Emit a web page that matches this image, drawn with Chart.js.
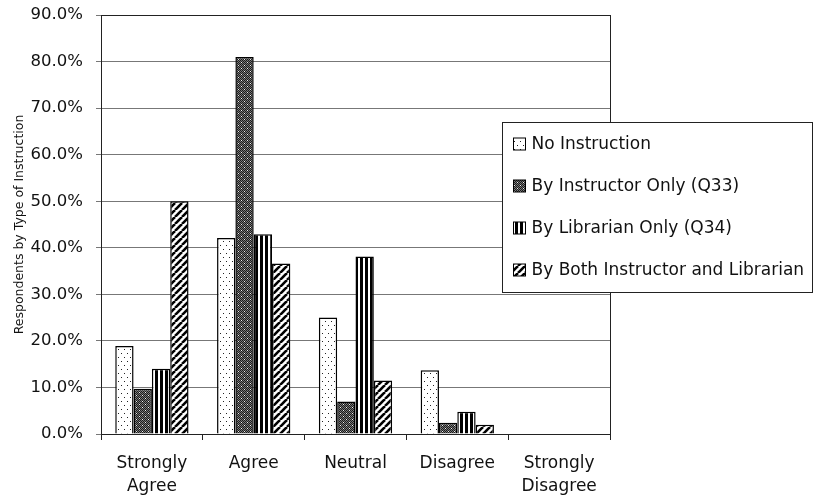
<!DOCTYPE html>
<html>
<head>
<meta charset="utf-8">
<script src="https://cdn.jsdelivr.net/npm/chart.js@4.4.1/dist/chart.umd.min.js"></script>
<style>
  html, body { margin: 0; padding: 0; background: #fff; }
  #wrap { width: 814px; height: 495px; position: relative; }
</style>
</head>
<body>
<div id="wrap"><canvas id="surveyChart" width="814" height="495"></canvas></div>
<script>
// chart data
const categories = [['Strongly', 'Agree'], 'Agree', 'Neutral', 'Disagree', ['Strongly', 'Disagree']];
const seriesNames = ['No Instruction', 'By Instructor Only (Q33)', 'By Librarian Only (Q34)', 'By Both Instructor and Librarian'];
const noInstruction = [18.9, 42.1, 25.0, 13.7, 0];
const instructorOnly = [9.7, 81.0, 7.0, 2.4, 0];
const librarianOnly = [14.0, 42.9, 38.1, 4.8, 0];
const bothInstructorLibrarian = [50.0, 36.6, 11.5, 2.0, 0];
const yTicks = [0, 10, 20, 30, 40, 50, 60, 70, 80, 90];

const FONT = '"DejaVu Sans", Verdana, sans-serif';

// fill patterns that look like the old printed chart
function makePattern(kind) {
  const c = document.createElement('canvas');
  const g = c.getContext('2d');
  if (kind === 'dots') {
    c.width = 6; c.height = 8;
    g.fillStyle = '#fff'; g.fillRect(0, 0, 6, 8);
    g.fillStyle = '#222';
    g.fillRect(1, 1, 1, 1);
    g.fillRect(4, 5, 1, 1);
  } else if (kind === 'dark') {
    c.width = 6; c.height = 6;
    g.fillStyle = '#777'; g.fillRect(0, 0, 6, 6);
    g.fillStyle = '#1a1a1a';
    for (let y = 0; y < 6; y++) for (let x = 0; x < 6; x++) if ((x + y) % 2 === 0) g.fillRect(x, y, 1, 1);
    g.fillStyle = '#eee';
    g.fillRect(1, 2, 1, 1);
    g.fillRect(4, 5, 1, 1);
  } else if (kind === 'vstripe') {
    c.width = 5; c.height = 4;
    g.fillStyle = '#fff'; g.fillRect(0, 0, 5, 4);
    g.fillStyle = '#000'; g.fillRect(0, 0, 3, 4);
  } else {
    c.width = 7; c.height = 7;
    g.fillStyle = '#fff'; g.fillRect(0, 0, 7, 7);
    g.strokeStyle = '#000'; g.lineWidth = 2.6;
    [-7, 0, 7].forEach(k => {
      g.beginPath(); g.moveTo(k, 7); g.lineTo(k + 7, 0); g.stroke();
    });
  }
  return g.createPattern(c, 'repeat');
}

const patterns = [makePattern('dots'), makePattern('dark'), makePattern('vstripe'), makePattern('diag')];
const seriesValues = [noInstruction, instructorOnly, librarianOnly, bothInstructorLibrarian];

// border round the plot area
const plotFrame = {
  id: 'plotFrame',
  afterDraw(chart) {
    const a = chart.chartArea, ctx = chart.ctx;
    ctx.save();
    ctx.strokeStyle = '#222';
    ctx.lineWidth = 1;
    ctx.strokeRect(Math.round(a.left) + 0.5, Math.round(a.top) + 0.5, Math.round(a.right - a.left), Math.round(a.bottom - a.top));
    ctx.restore();
  }
};

// boxed legend that sits over the right side of the plot
const boxLegend = {
  id: 'boxLegend',
  afterDraw(chart) {
    const ctx = chart.ctx;
    const x = 502.5, y = 122.5, w = 310, h = 170;
    ctx.save();
    ctx.fillStyle = '#fff';
    ctx.fillRect(x, y, w, h);
    ctx.strokeStyle = '#222';
    ctx.lineWidth = 1;
    ctx.strokeRect(x, y, w, h);
    ctx.font = '17px ' + FONT;
    ctx.textBaseline = 'middle';
    chart.data.datasets.forEach((ds, i) => {
      const cy = y + 21.5 + i * 42;
      ctx.fillStyle = ds.backgroundColor;
      ctx.fillRect(x + 11, cy - 6, 12, 12);
      ctx.strokeStyle = '#000';
      ctx.strokeRect(x + 11, cy - 6, 12, 12);
      ctx.fillStyle = '#111';
      ctx.fillText(ds.label, x + 29, cy + 1);
    });
    ctx.restore();
  }
};

new Chart(document.getElementById('surveyChart'), {
  type: 'bar',
  data: {
    labels: categories,
    datasets: seriesNames.map((name, i) => ({
      label: name,
      data: seriesValues[i],
      backgroundColor: patterns[i],
      borderColor: '#000',
      borderWidth: 1.5,
      categoryPercentage: 0.72,
      barPercentage: 1
    }))
  },
  options: {
    responsive: false,
    animation: false,
    layout: { padding: { top: 15, right: 204, left: 12, bottom: 0 } },
    plugins: { legend: { display: false }, tooltip: { enabled: false } },
    scales: {
      x: {
        grid: { offset: true, drawOnChartArea: false, color: '#222', tickLength: 6 },
        border: { color: '#222' },
        ticks: { color: '#111', font: { family: FONT, size: 17, lineHeight: 1.3 }, padding: 13, maxRotation: 0 },
        afterFit(s) { s.height = 61; }
      },
      y: {
        min: 0,
        max: 90,
        afterBuildTicks(s) { s.ticks = yTicks.map(v => ({ value: v })); },
        grid: { color: '#777', tickLength: 5 },
        border: { color: '#222' },
        ticks: {
          color: '#111',
          font: { family: FONT, size: 16.5 },
          padding: 13,
          callback: v => v.toFixed(1) + '%'
        },
        title: {
          display: true,
          text: 'Respondents by Type of Instruction',
          color: '#111',
          font: { family: FONT, size: 12.5 },
          padding: 0
        },
        afterFit(s) {
          s.width = 89;
          s.paddingTop = 0;
          s.paddingBottom = 0;
        }
      }
    }
  },
  plugins: [plotFrame, boxLegend]
});
</script>
</body>
</html>
